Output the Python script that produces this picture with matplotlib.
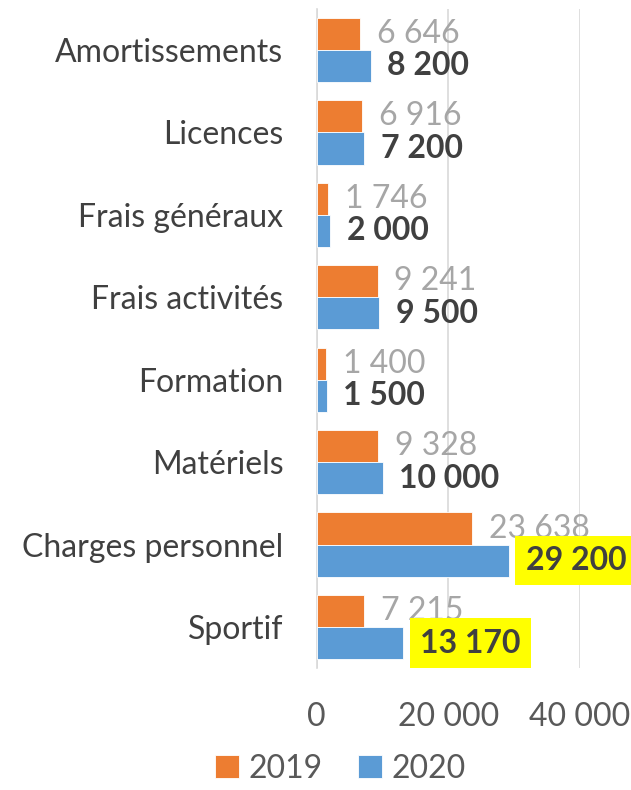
import numpy as np
import matplotlib
matplotlib.use("Agg")
import matplotlib.pyplot as plt

categories = ['Amortissements', 'Licences', 'Frais généraux', 'Frais activités',
              'Formation', 'Matériels', 'Charges personnel', 'Sportif']
values_2019 = [6646, 6916, 1746, 9241, 1400, 9328, 23638, 7215]
values_2020 = [8200, 7200, 2000, 9500, 1500, 10000, 29200, 13170]
highlighted = ['Charges personnel', 'Sportif']

plt.rcParams['font.family'] = ['Lato', 'DejaVu Sans']


def fmt(v):
    return f"{v:,}".replace(",", " ")


fig = plt.figure(figsize=(6.31, 7.90), dpi=100)
ax = fig.add_axes([0.502, 0.154, 0.919 - 0.502, 0.835])

y = np.arange(len(categories))
h = 0.39
ax.barh(y - h / 2, values_2019, height=h, color='#ED7D31', edgecolor='white', linewidth=0.6, label='2019', zorder=3)
ax.barh(y + h / 2, values_2020, height=h, color='#5B9BD5', edgecolor='white', linewidth=0.6, label='2020', zorder=3)

for i, (a, b) in enumerate(zip(values_2019, values_2020)):
    ax.annotate(fmt(a), (a, i - h / 2), xytext=(12, 0), textcoords='offset points',
                va='center', ha='left', fontsize=23, color='#A6A6A6', annotation_clip=False)
    box = None
    if categories[i] in highlighted:
        box = dict(boxstyle='square,pad=0.32', facecolor='#FFFF00', edgecolor='none')
    ax.annotate(fmt(b), (b, i + h / 2), xytext=(12, 0), textcoords='offset points',
                va='center', ha='left', fontsize=23, fontweight='bold', color='#404040',
                bbox=box, annotation_clip=False, zorder=4)

ax.set_ylim(len(categories) - 0.5, -0.5)
ax.set_xlim(0, 40000)
ax.set_xticks([0, 20000, 40000])
ax.set_xticklabels([fmt(t) for t in [0, 20000, 40000]])
ax.set_yticks(y)
ax.set_yticklabels(categories)
ax.tick_params(axis='x', labelsize=23, labelcolor='#595959', length=0, pad=24)
ax.tick_params(axis='y', labelsize=23, labelcolor='#404040', length=0, pad=24)
ax.grid(axis='x', color='#D9D9D9', linewidth=1.2, zorder=0)
for s in ['top', 'right', 'bottom']:
    ax.spines[s].set_visible(False)
ax.spines['left'].set_color('#D9D9D9')
ax.spines['left'].set_linewidth(1.2)

fig.legend(loc='lower center', bbox_to_anchor=(0.54, 0.0), ncol=2, frameon=False,
           fontsize=23, labelcolor='#595959', handlelength=0.75, handleheight=0.75,
           handletextpad=0.3, columnspacing=1.1, borderpad=0.1, borderaxespad=0.1)

fig.savefig('out.png', dpi=100)
